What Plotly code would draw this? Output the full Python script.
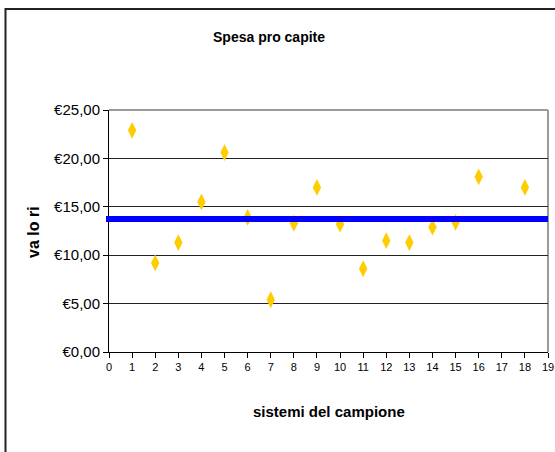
import plotly.graph_objects as go

# Data
sistemi = [1, 2, 3, 4, 5, 6, 7, 8, 9, 10, 11, 12, 13, 14, 15, 16, 18]
spesa = [22.9, 9.2, 11.3, 15.5, 20.6, 13.9, 5.4, 13.3, 17.0, 13.2, 8.6, 11.5, 11.3, 12.9, 13.4, 18.1, 17.0]
media = [13.75]
y_ticks = [0, 5, 10, 15, 20, 25]
y_labels = ["€0,00", "€5,00", "€10,00", "€15,00", "€20,00", "€25,00"]
x_ticks = list(range(0, 20))

W, H = 555, 452
L, R, T, B = 109, 548, 110, 352
NARROW = "Liberation Sans Narrow, Arial Narrow, Liberation Sans, Arial"

def px_x(p):
    return (p - L) / (R - L)

def px_y(p):
    return (B - p) / (B - T)

fig = go.Figure()

fig.add_trace(go.Scatter(
    x=sistemi, y=spesa, mode="markers",
    marker=dict(symbol="diamond-tall", size=12, color="#FFCC00", line=dict(width=0)),
    showlegend=False, cliponaxis=False,
))

shapes = []
# mean line
shapes.append(dict(type="line", xref="paper", yref="y", x0=px_x(106), x1=1.0,
                   y0=media[0], y1=media[0], line=dict(color="#0000FF", width=6), layer="above"))
# plot area top and right border (gray)
shapes.append(dict(type="line", xref="paper", yref="paper", x0=0, x1=1, y0=1, y1=1,
                   line=dict(color="#9A9A9A", width=2), layer="below"))
shapes.append(dict(type="line", xref="paper", yref="paper", x0=1, x1=1, y0=0, y1=1,
                   line=dict(color="#9A9A9A", width=2), layer="below"))
# outer chart border
shapes.append(dict(type="rect", xref="paper", yref="paper",
                   x0=px_x(5.5), x1=px_x(570), y0=px_y(470), y1=px_y(9),
                   line=dict(color="#222222", width=2), fillcolor="rgba(0,0,0,0)"))

annotations = [
    dict(text="<b>Spesa pro capite</b>", xref="paper", yref="paper", x=px_x(269), y=px_y(37),
         showarrow=False, font=dict(family=NARROW, size=14, color="black"), xanchor="center", yanchor="middle"),
    dict(text="<b>sistemi del campione</b>", xref="paper", yref="paper", x=px_x(329), y=px_y(411),
         showarrow=False, font=dict(family=NARROW, size=15, color="black"), xanchor="center", yanchor="middle"),
    dict(text="<b>va lo ri</b>", xref="paper", yref="paper", x=px_x(33), y=px_y(232),
         showarrow=False, textangle=-90, font=dict(family=NARROW, size=16, color="black"),
         xanchor="center", yanchor="middle"),
]

fig.update_layout(
    width=W, height=H, autosize=False,
    margin=dict(l=L, r=W - R, t=T, b=H - B, pad=0, autoexpand=False),
    paper_bgcolor="white", plot_bgcolor="white",
    shapes=shapes, annotations=annotations,
    xaxis=dict(range=[0, 19], tickmode="array", tickvals=x_ticks, ticktext=[str(v) for v in x_ticks],
               showgrid=False, zeroline=False, showline=True, linecolor="black", linewidth=1,
               ticks="outside", ticklen=5, tickcolor="black", automargin=False,
               tickfont=dict(family=NARROW, size=11, color="black"), fixedrange=True),
    yaxis=dict(range=[0, 25], tickmode="array", tickvals=y_ticks, ticktext=y_labels,
               showgrid=True, gridcolor="#222222", gridwidth=1, zeroline=False,
               showline=True, linecolor="black", linewidth=1, automargin=False,
               ticks="outside", ticklen=5, tickcolor="black",
               tickfont=dict(family=NARROW, size=15, color="black"), fixedrange=True),
)

fig.write_html("out.html", config={"displayModeBar": False},
               post_script="document.body.style.margin='0';document.body.style.overflow='hidden';")
